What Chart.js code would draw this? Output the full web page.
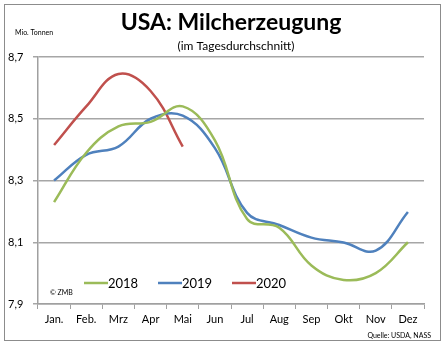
<!DOCTYPE html>
<html>
<head>
<meta charset="utf-8">
<script src="https://cdn.jsdelivr.net/npm/chart.js@4"></script>
<style>
  html, body { margin: 0; padding: 0; background: #fff; }
  #wrap { width: 446px; height: 347px; }
</style>
</head>
<body>
<div id="wrap"><canvas id="milk" width="446" height="347"></canvas></div>
<script>
// US-Milcherzeugung im Tagesdurchschnitt, Mio. Tonnen, je Monat

const MONTHS = ['Jan.', 'Feb.', 'Mrz', 'Apr', 'Mai', 'Jun', 'Jul', 'Aug', 'Sep', 'Okt', 'Nov', 'Dez'];
const YEARS = ['2018', '2019', '2020'];
const COLORS = ['#9bbb59', '#4f81bd', '#c0504d'];

const milk2018 = [8.23, 8.39, 8.475, 8.49, 8.54, 8.43, 8.175, 8.147, 8.025, 7.978, 8.0, 8.10];
const milk2019 = [8.30, 8.383, 8.41, 8.50, 8.51, 8.405, 8.195, 8.156, 8.115, 8.099, 8.073, 8.198];
const milk2020 = [8.415, 8.54, 8.645, 8.59, 8.41];

const Y_MIN = 7.9, Y_MAX = 8.7, Y_STEP = 0.2;

const FONT = 'Lato, "Open Sans", sans-serif';

// Rahmen, Titel, Legende und Quellenangabe
const decor = {
    id: 'decor',
    beforeDraw(chart) {
        const c = chart.ctx;
        c.save();
        c.fillStyle = '#fff';
        c.fillRect(0, 0, chart.width, chart.height);
        c.strokeStyle = '#8c8c8c';
        c.lineWidth = 1;
        c.strokeRect(4.5, 4.5, 436, 336);
        c.restore();
    },
    afterDraw(chart) {
        const c = chart.ctx;
        c.save();
        c.fillStyle = '#000';
        c.textBaseline = 'middle';

        c.textAlign = 'center';
        c.font = 'bold 23px ' + FONT;
        c.fillText('USA: Milcherzeugung', 231, 23);
        c.font = '12px ' + FONT;
        c.fillText('(im Tagesdurchschnitt)', 236, 46);

        c.textAlign = 'left';
        c.font = '7px ' + FONT;
        c.fillText('Mio. Tonnen', 15, 33);
        c.fillText('\u00a9 ZMB', 50, 293);
        c.textAlign = 'right';
        c.fillText('Quelle: USDA, NASS', 431, 336);

        // Legende im Diagramm
        c.textAlign = 'left';
        c.font = '13px ' + FONT;
        chart.data.datasets.forEach((ds, i) => {
            const x = 84 + i * 74;
            c.strokeStyle = ds.borderColor;
            c.lineWidth = 2.5;
            c.beginPath();
            c.moveTo(x, 283);
            c.lineTo(x + 24, 283);
            c.stroke();
            c.fillText(ds.label, x + 24, 284);
        });
        c.restore();
    }
};

const datasets = [milk2018, milk2019, milk2020].map((vals, i) => ({
    label: YEARS[i],
    data: vals,
    borderColor: COLORS[i],
    backgroundColor: COLORS[i],
    borderWidth: 2.5,
    pointRadius: 0,
    tension: 0.4,
    fill: false
}));

new Chart(document.getElementById('milk'), {
    type: 'line',
    data: { labels: MONTHS, datasets },
    plugins: [decor],
    options: {
        responsive: false,
        animation: false,
        layout: { padding: { left: 8, right: 22, top: 57, bottom: 0 } },
        plugins: { legend: { display: false }, tooltip: { enabled: false } },
        scales: {
            x: {
                offset: true,
                afterFit: s => { s.height = 43; },
                grid: { offset: true, drawOnChartArea: false, drawTicks: true, tickLength: 5, color: '#a0a0a0' },
                border: { color: '#a0a0a0', width: 1.5 },
                ticks: { color: '#000', font: { family: FONT, size: 11 }, padding: 4, maxRotation: 0 }
            },
            y: {
                min: Y_MIN,
                max: Y_MAX,
                afterFit: s => { s.width = 30; },
                grid: { color: '#a6a6a6', lineWidth: 1.5, tickLength: 5 },
                border: { color: '#a0a0a0', width: 1.5 },
                ticks: {
                    stepSize: Y_STEP,
                    crossAlign: 'far',
                    color: '#000',
                    font: { family: FONT, size: 11 },
                    callback: v => v.toFixed(1).replace('.', ',')
                }
            }
        }
    }
});
</script>
</body>
</html>
